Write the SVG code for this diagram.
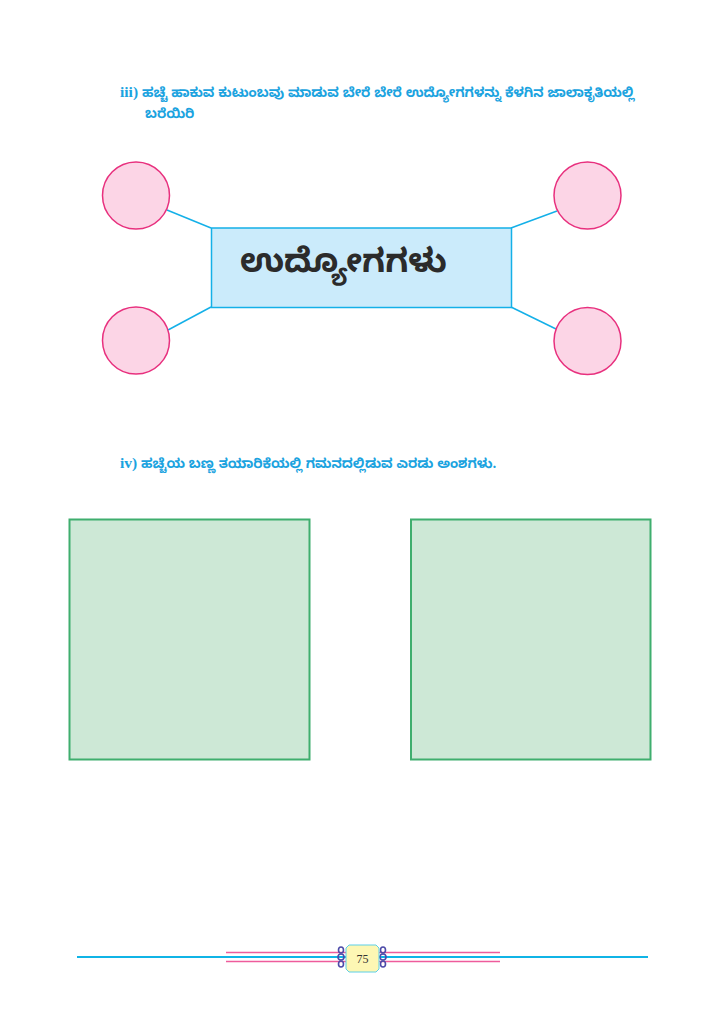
<svg xmlns="http://www.w3.org/2000/svg" width="724" height="1024" viewBox="0 0 724 1024">
<style>
.q{font-family:"Noto Sans Kannada","Noto Sans","DejaVu Sans",sans-serif;font-weight:bold;fill:#1ba3df;font-size:13.4px}
.qn{font-family:"Liberation Serif",serif;font-weight:bold;fill:#1ba3df;font-size:15.5px}
.circ{fill:#fcd5e6;stroke:#e8307e;stroke-width:1.5}
.conn{stroke:#14b0e8;stroke-width:1.5;fill:none}
.box{fill:#cde8d6;stroke:#3fae6e;stroke-width:2}
</style>
<rect width="724" height="1024" fill="#ffffff"/>
<g id="title-iii">
<text class="q" x="120" y="97"><tspan class="qn">iii)</tspan> ಹಚ್ಚೆ ಹಾಕುವ ಕುಟುಂಬವು ಮಾಡುವ ಬೇರೆ ಬೇರೆ ಉದ್ಯೋಗಗಳನ್ನು ಕೆಳಗಿನ ಜಾಲಾಕೃತಿಯಲ್ಲಿ</text>
<text class="q" x="145" y="118">ಬರೆಯಿರಿ</text>
</g>
<g id="connectors">
<line class="conn" x1="167" y1="210" x2="211" y2="228"/>
<line class="conn" x1="168" y1="330" x2="211" y2="307"/>
<line class="conn" x1="511" y1="228" x2="557" y2="211"/>
<line class="conn" x1="511" y1="307" x2="556" y2="329"/>
</g>
<g id="center">
<rect x="211.5" y="228" width="300" height="79.5" fill="#cbebfb" stroke="#14b0e8" stroke-width="1.5"/>
<text x="240" y="272" font-family="Noto Sans Kannada, Noto Sans, DejaVu Sans, sans-serif" font-weight="bold" font-size="33" fill="#2b2b2b">ಉದ್ಯೋಗಗಳು</text>
</g>
<g id="c1"><circle class="circ" cx="136" cy="195.5" r="33.5"/></g>
<g id="c2"><circle class="circ" cx="136" cy="340.5" r="33.5"/></g>
<g id="c3"><circle class="circ" cx="587.5" cy="195.5" r="33.5"/></g>
<g id="c4"><circle class="circ" cx="587.5" cy="341" r="33.5"/></g>
<g id="title-iv">
<text class="q" x="120" y="468"><tspan class="qn">iv)</tspan> ಹಚ್ಚೆಯ ಬಣ್ಣ ತಯಾರಿಕೆಯಲ್ಲಿ ಗಮನದಲ್ಲಿಡುವ ಎರಡು ಅಂಶಗಳು.</text>
</g>
<g id="box1"><rect class="box" x="69.5" y="519.5" width="240" height="240"/></g>
<g id="box2"><rect class="box" x="411" y="519.5" width="239.5" height="240"/></g>
<g id="footer">
<line x1="226" y1="952.5" x2="500" y2="952.5" stroke="#ee5c9c" stroke-width="1.5"/>
<line x1="226" y1="961.5" x2="500" y2="961.5" stroke="#ee5c9c" stroke-width="1.5"/>
<line x1="77" y1="957" x2="648" y2="957" stroke="#10b4e6" stroke-width="2"/>
<g fill="none" stroke="#4d4aa8" stroke-width="1.6">
<ellipse cx="341" cy="950" rx="2.5" ry="3"/>
<ellipse cx="341" cy="957" rx="3" ry="3"/>
<ellipse cx="341" cy="964" rx="2.5" ry="3"/>
<ellipse cx="383" cy="950" rx="2.5" ry="3"/>
<ellipse cx="383" cy="957" rx="3" ry="3"/>
<ellipse cx="383" cy="964" rx="2.5" ry="3"/>
</g>
<polygon points="349,945 376,945 379,948 379,969 376,972 349,972 346,969 346,948" fill="#fdf7b4" stroke="#5ccfe8" stroke-width="1"/>
<text x="362.5" y="963" text-anchor="middle" font-family="Liberation Serif, serif" font-size="12" fill="#333333">75</text>
</g>
</svg>
